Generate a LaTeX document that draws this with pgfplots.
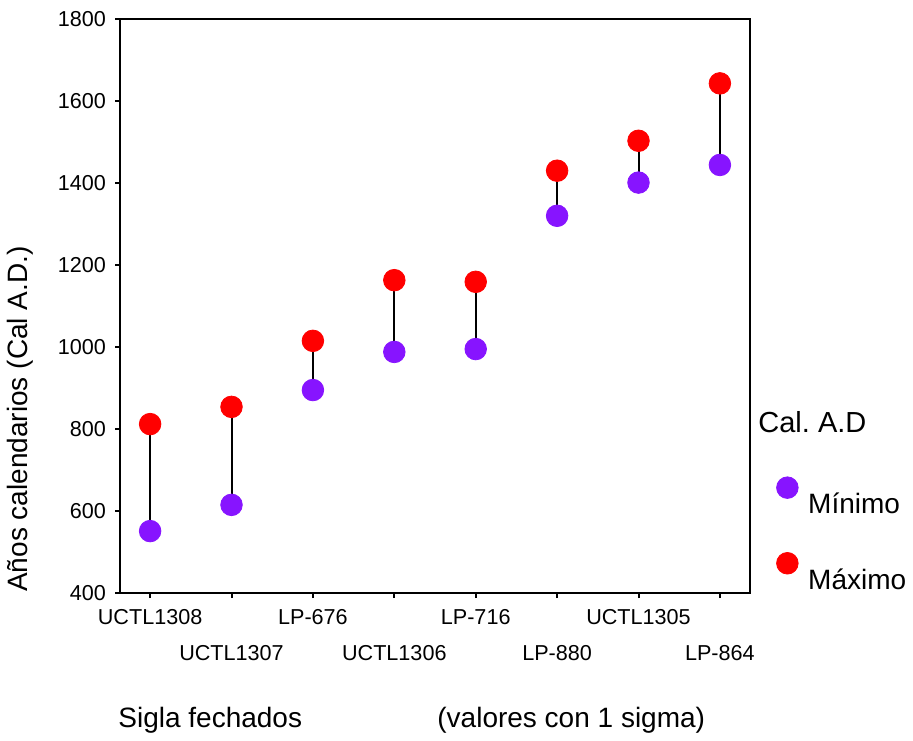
\documentclass[border=0pt]{standalone}
\usepackage{fontspec}
\setmainfont{Liberation Sans}
\usepackage{pgfplots}
\pgfplotsset{compat=1.18}
\usepackage{pgfplotstable}
\definecolor{minpurple}{RGB}{135,20,255}
\definecolor{maxred}{RGB}{255,0,0}

% sample, calibrated years (1 sigma)
\pgfplotstableread{
x  min   max
1  551   812
2  615   854
3  895   1015
4  988   1163
5  995   1159
6  1320  1430
7  1401  1503
8  1444  1643
}\fechas

\newcommand{\low}{\rule{0pt}{25.7pt}}

\begin{document}
\frenchspacing
\begin{tikzpicture}
\useasboundingbox (0,0) rectangle (456.5pt,370pt);
\begin{axis}[
    at={(60pt,73.5pt)}, anchor=south west,
    scale only axis,
    width=315pt, height=287pt,
    xmin=0.63, xmax=8.37,
    ymin=400, ymax=1800,
    xtick={1,...,8},
    xticklabels={UCTL1308,\low UCTL1307,LP-676,\low UCTL1306,LP-716,\low LP-880,UCTL1305,\low LP-864},
    ytick={400,600,...,1800},
    xtick pos=bottom, ytick pos=left,
    tick align=outside,
    major tick length=2.5pt,
    tick style={black, line width=1pt},
    axis line style={line width=1pt},
    /pgf/number format/assume math mode=true,
    /pgf/number format/1000 sep={},
    ticklabel style={font=\fontsize{10.8}{13}\selectfont},
    xticklabel style={yshift=-2pt},
    yticklabel style={xshift=-1pt},
    legend style={at={(1.032,0.21)}, anchor=north west, draw=none, fill=none,
        font=\fontsize{14}{16}\selectfont, row sep=17pt,
        nodes={inner sep=1pt}, column sep=4pt},
    legend cell align=left,
    legend image code/.code={\draw[#1] plot coordinates {(0pt,8.5pt)};},
    clip=false,
]
\addplot[draw=none, forget plot, mark=none,
    error bars/.cd, y dir=plus, y explicit,
    error mark=none, error bar style={black, line width=1pt}]
    table[x=x, y=min, y error expr=\thisrow{max}-\thisrow{min}] {\fechas};
\addplot[only marks, mark=*, mark size=5.4pt,
    mark options={fill=minpurple, draw=minpurple}]
    table[x=x, y=min] {\fechas};
\addplot[only marks, mark=*, mark size=5.4pt,
    mark options={fill=maxred, draw=maxred}]
    table[x=x, y=max] {\fechas};
\legend{Mínimo, Máximo}
\end{axis}
\node[rotate=90, font=\fontsize{14}{16}\selectfont] at (10pt,160.5pt) {Años calendarios (Cal A.D.)};
\node[anchor=west, font=\fontsize{14}{16}\selectfont, inner sep=0pt] at (59pt,10pt) {Sigla fechados};
\node[anchor=west, font=\fontsize{14}{16}\selectfont, inner sep=0pt] at (218.5pt,10pt) {(valores con 1 sigma)};
\node[anchor=west, font=\fontsize{14.5}{16}\selectfont, inner sep=0pt] at (379pt,159pt) {Cal. A.D};
\end{tikzpicture}
\end{document}
